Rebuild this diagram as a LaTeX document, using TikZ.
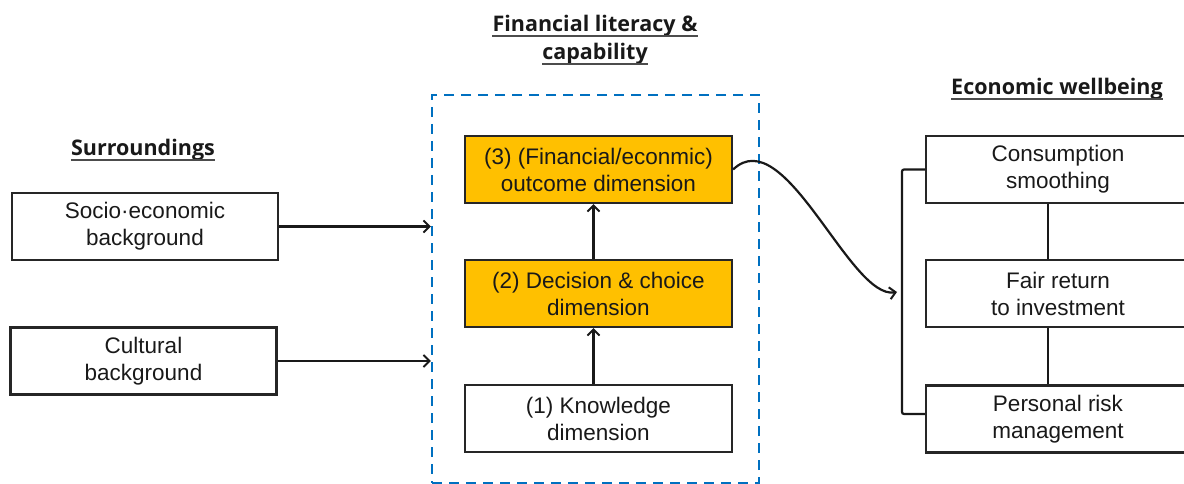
\documentclass[tikz,border=0pt]{standalone}
\usepackage{fontspec}
\setmainfont{Liberation Sans}
\newfontfamily\headfont{Open Sans}
\usetikzlibrary{arrows.meta}
\definecolor{frameblue}{RGB}{0,112,192}
\definecolor{gold}{RGB}{255,192,0}
\begin{document}
\begin{tikzpicture}[x=1pt,y=-1pt,
  box/.style={draw=black!85, line width=2.2pt, minimum width=266pt, minimum height=67pt,
    align=center, font=\fontsize{22.5}{27}\selectfont, inner sep=0pt, text=black!90},
  goldbox/.style={box, fill=gold},
  head/.style={font=\headfont\bfseries\fontsize{21.5}{26}\selectfont, inner sep=0pt, anchor=base, text=black!90},
  uline/.style={line width=1.6pt, black!70},
  link/.style={line width=2.2pt, black!90},
  arr/.style={link, -{Straight Barb[length=6pt,width=12pt,line width=2pt]}},
]
\useasboundingbox (0,0) rectangle (1184,484);
\begin{scope}
\clip (0,0) rectangle (1184,484);

% headings
\node[head] (hsur) at (143,156) {Surroundings};
\node[head] (hfin) at (595,32) {Financial literacy \&};
\node[head] (hcap) at (595,60) {capability};
\node[head] (heco) at (1057,95) {Economic wellbeing};
\foreach \h in {hsur,hfin,hcap,heco}
  \draw[uline] ([yshift=-4pt]\h.base west) -- ([yshift=-4pt]\h.base east);

% dashed frame around the three dimensions
\node[draw=frameblue, line width=2.2pt, dash pattern=on 10pt off 7pt,
  minimum width=327pt, minimum height=388pt, inner sep=0pt] (frame) at (595.5,289) {};

% surroundings
\node[box] (socio) at (145,226.5) {Socio·economic\\background};
\node[box] (cult) at (143.5,361) {Cultural\\background};

% dimensions
\node[goldbox, minimum width=267pt] (m3) at (598.5,169.5) {(3) (Financial/econmic)\\outcome dimension};
\node[goldbox, minimum width=267pt] (m2) at (598.5,293.5) {(2) Decision \& choice\\dimension};
\node[box, minimum width=267pt] (m1) at (598.5,418.5) {(1) Knowledge\\dimension};

% economic wellbeing
\node[box, minimum width=264pt] (ra) at (1058,169.5) {Consumption\\smoothing};
\node[box, minimum width=264pt] (rb) at (1058,293.5) {Fair return\\to investment};
\node[box, minimum width=264pt] (rc) at (1058,419) {Personal risk\\management};

% connectors
\draw[arr] (socio.east) -- (socio.east -| frame.west);
\draw[arr] (cult.east) -- (cult.east -| frame.west);
\draw[arr] ([xshift=-5pt]m1.north) -- ([xshift=-5pt]m2.south);
\draw[arr] ([xshift=-5pt]m2.north) -- ([xshift=-5pt]m3.south);
\draw[link] ([xshift=-10pt]ra.south) -- ([xshift=-10pt]rb.north);
\draw[link] ([xshift=-10pt]rb.south) -- ([xshift=-10pt]rc.north);

\coordinate (br) at (902,292);
\coordinate (tip) at (897,292);
\draw[link, rounded corners=2pt] (ra.west) -| (br) |- ([yshift=5pt]rc.west);
\draw[arr] (m3.east) .. controls (785,120) and (850,300) .. (tip);
\end{scope}
\end{tikzpicture}
\end{document}
